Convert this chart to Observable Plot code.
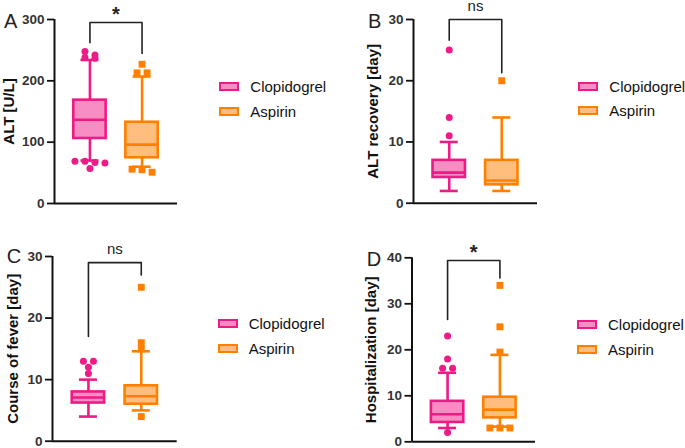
<!DOCTYPE html>
<html><head><meta charset="utf-8">
<script src="https://cdn.jsdelivr.net/npm/d3@7"></script>
<script src="https://cdn.jsdelivr.net/npm/@observablehq/plot@0.6"></script>
<style>
body{margin:0;background:#fff;}
#fig{position:relative;width:685px;height:448px;overflow:hidden;font-family:"Liberation Sans",Arial,sans-serif;background:#fff;}
.panel{position:absolute;}
.letter{position:absolute;font-size:20px;line-height:20px;color:#222;}
.row{position:absolute;display:flex;align-items:center;white-space:nowrap;height:20px;font-size:15px;color:#111;}
.sw{box-sizing:border-box;width:20px;height:9px;border:2.6px solid;margin-right:11px;}
</style></head><body><div id="fig"></div>
<script>
// ---------- data ----------
const groups = ["Clopidogrel", "Aspirin"];
const panelLetters = ["A", "B", "C", "D"];
const panelTitles = ["ALT [U/L]", "ALT recovery [day]", "Course of fever [day]", "Hospitalization [day]"];
const yMax = [300, 30, 30, 40];
const yTicks = [[0, 100, 200, 300], [0, 10, 20, 30], [0, 10, 20, 30], [0, 10, 20, 30, 40]];
// [Clopidogrel, Aspirin] per panel
const whiskerLow  = [[70, 60],   [2, 2],   [4, 5],    [3, 3.3]];
const quartile1   = [[106, 74.5],[4.2, 3], [6.2, 6],  [4.2, 5.2]];
const medianVal   = [[136.5, 96],[5, 3.7], [7.1, 7.3],[6, 7]];
const quartile3   = [[168.5, 132.5],[7, 7],[8, 9],    [8.8, 9.7]];
const whiskerHigh = [[234, 207], [10, 14], [10, 14.6],[15, 18.9]];
const outliersClopidogrel = [[248, 242, 238, 237, 69, 69, 67, 66, 57], [25, 14, 11], [13, 13, 12, 11], [23, 18, 16, 16, 2]];
const outliersAspirin     = [[227, 213, 213, 56, 55, 51], [20], [25, 16, 15, 4], [34, 25, 19.5, 3, 3, 3]];
const sigLabels = ["*", "ns", "ns", "*"];
const bracketTop = [295, 30, 29, 39.4];
const bracketLeftEnd = [262, 26.6, 17, 26.6];
const bracketRightEnd = [244.5, 21.3, 27, 35.6];

// ---------- style / layout ----------
const dark = ["#EE1A86", "#FF8000"];
const light = ["#F78DC2", "#FFBE7D"];
const layout = [
  {left: 0,   top: 0,   width: 182, height: 215, ml: 54,   mr: 5,   mt: 19,   mb: 12,   labelOffset: 51,   legendX: 219.3, legendY: [86, 111],     letterX: 4,     letterBase: 28.3},
  {left: 340, top: 0,   width: 200, height: 215, ml: 73,   mr: 3,   mt: 19,   mb: 12.3, labelOffset: 46.3, legendX: 578.3, legendY: [86, 110.5],   letterX: 368,   letterBase: 28},
  {left: 0,   top: 230, width: 180, height: 218, ml: 52,   mr: 3.3, mt: 26,   mb: 7.3,  labelOffset: 44.7, legendX: 217.7, legendY: [323.7, 348.7], letterX: 6.7, letterBase: 263.3},
  {left: 340, top: 230, width: 200, height: 218, ml: 71.5, mr: 5,   mt: 27.3, mb: 6.7,  labelOffset: 46.5, legendX: 577,   legendY: [324.3, 349],   letterX: 366.7, letterBase: 265.7}
];
const xDom = [-0.68, 1.68];
const FONT = '"Liberation Sans", Arial, sans-serif';

// spread outliers of similar value side by side (Prism-like)
function spread(values, yPx, xPx) {
  const order = values.map((v, k) => k).sort((a, b) => values[b] - values[a]);
  const off = new Array(values.length).fill(0);
  let row = [], rowStart = null;
  const flush = () => row.forEach((k, n) => off[k] = (n - (row.length - 1) / 2) * 10 / xPx);
  for (const k of order) {
    const p = values[k] * yPx;
    if (rowStart === null || rowStart - p >= 6) { flush(); row = []; rowStart = p; }
    row.push(k);
  }
  flush();
  return off;
}

const fig = document.getElementById("fig");

function drawPanel(i) {
  const L = layout[i];
  const plotW = L.width - L.ml - L.mr;
  const plotH = L.height - L.mt - L.mb;
  const xPx = plotW / (xDom[1] - xDom[0]);
  const yPx = plotH / yMax[i];
  const boxHalf = 16.2 / xPx, capHalf = 9 / xPx;
  const stats = groups.map((g, j) => ({
    group: g, idx: j,
    lo: whiskerLow[i][j], q1: quartile1[i][j], med: medianVal[i][j], q3: quartile3[i][j], hi: whiskerHigh[i][j]
  }));
  const outl = [outliersClopidogrel[i], outliersAspirin[i]].map((vals, j) => {
    const off = spread(vals, yPx, xPx);
    return vals.map((v, k) => ({idx: j, v, x: j + off[k]}));
  });
  const bracket = [
    {x: 0, y: bracketLeftEnd[i]}, {x: 0, y: bracketTop[i]},
    {x: 1, y: bracketTop[i]}, {x: 1, y: bracketRightEnd[i]}
  ];
  const isStar = sigLabels[i] === "*";
  const sw = 2.6;
  const chart = Plot.plot({
    width: L.width, height: L.height,
    marginLeft: L.ml, marginRight: L.mr, marginTop: L.mt, marginBottom: L.mb,
    style: {fontFamily: FONT, background: "transparent", color: "#111", overflow: "visible"},
    x: {domain: xDom, axis: null},
    y: {domain: [0, yMax[i]], axis: null},
    marks: [
      Plot.ruleX(stats, {x: "idx", y1: "q3", y2: "hi", stroke: d => dark[d.idx], strokeWidth: sw}),
      Plot.ruleX(stats, {x: "idx", y1: "lo", y2: "q1", stroke: d => dark[d.idx], strokeWidth: sw}),
      Plot.ruleY(stats, {y: "hi", x1: d => d.idx - capHalf, x2: d => d.idx + capHalf, stroke: d => dark[d.idx], strokeWidth: sw}),
      Plot.ruleY(stats, {y: "lo", x1: d => d.idx - capHalf, x2: d => d.idx + capHalf, stroke: d => dark[d.idx], strokeWidth: sw}),
      Plot.rect(stats, {x1: d => d.idx - boxHalf, x2: d => d.idx + boxHalf, y1: "q1", y2: "q3", fill: d => light[d.idx], stroke: d => dark[d.idx], strokeWidth: sw}),
      Plot.ruleY(stats, {y: "med", x1: d => d.idx - boxHalf, x2: d => d.idx + boxHalf, stroke: d => dark[d.idx], strokeWidth: sw}),
      Plot.dot(outl[0], {x: "x", y: "v", r: 3.5, fill: dark[0], stroke: "none"}),
      Plot.dot(outl[1], {x: "x", y: "v", r: 3.9, symbol: "square", fill: dark[1], stroke: "none"}),
      Plot.line(bracket, {x: "x", y: "y", stroke: "#222", strokeWidth: 1.6}),
      Plot.text([sigLabels[i]], {x: 0.5, y: bracketTop[i], text: d => d, lineAnchor: "bottom",
        dy: isStar ? -1.5 : -8.5, fontSize: isStar ? 20 : 15, fontWeight: isStar ? "bold" : "normal", fill: "#222"}),
      Plot.ruleX([xDom[0]], {stroke: "#111", strokeWidth: 2}),
      Plot.ruleY([0], {stroke: "#111", strokeWidth: 2}),
      Plot.axisY({ticks: yTicks[i], tickSize: 7, tickPadding: 3, strokeWidth: 1.8, stroke: "#111",
        fill: "#333", fontSize: 13.5, fontWeight: "bold", label: null}),
      Plot.text([panelTitles[i]], {frameAnchor: "left", rotate: -90, dx: -L.labelOffset, lineAnchor: "top",
        textAnchor: "middle", text: d => d, fontSize: 15, fontWeight: "bold", fill: "#111"})
    ]
  });
  const div = document.createElement("div");
  div.className = "panel";
  div.style.left = L.left + "px";
  div.style.top = L.top + "px";
  div.style.width = L.width + "px";
  div.style.height = L.height + "px";
  div.appendChild(chart);
  fig.appendChild(div);

  // legend
  groups.forEach((g, j) => {
    const row = document.createElement("div");
    row.className = "row";
    row.style.left = L.legendX + "px";
    row.style.top = (L.legendY[j] - 10) + "px";
    const s = document.createElement("span");
    s.className = "sw";
    s.style.borderColor = dark[j];
    s.style.background = light[j];
    row.appendChild(s);
    const t = document.createElement("span");
    t.textContent = g;
    row.appendChild(t);
    fig.appendChild(row);
  });
}

for (let i = 0; i < 4; i++) drawPanel(i);
// panel letters on top
layout.forEach((L, i) => {
  const d = document.createElement("div");
  d.className = "letter";
  d.textContent = panelLetters[i];
  d.style.left = L.letterX + "px";
  d.style.top = (L.letterBase - 16.9) + "px";
  fig.appendChild(d);
});
</script></body></html>
